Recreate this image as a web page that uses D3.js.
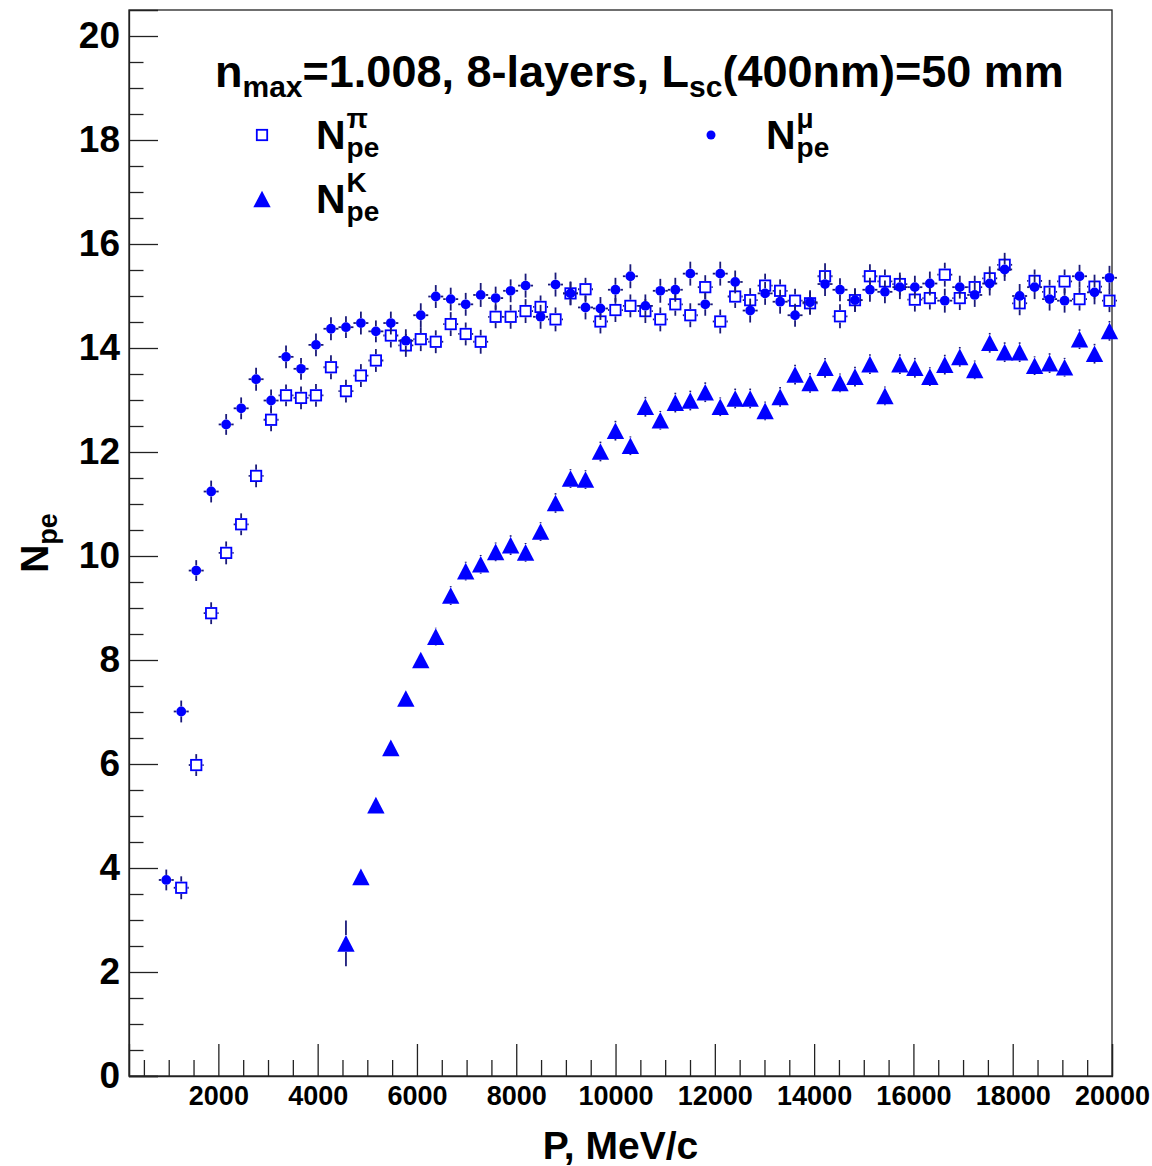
<!DOCTYPE html>
<html>
<head>
<meta charset="utf-8">
<script src="https://cdn.jsdelivr.net/npm/d3@7"></script>
<style>
  body { margin: 0; background: #fff; }
  text { font-family: "Liberation Sans", Arial, Helvetica, sans-serif; font-weight: bold; fill: #000; }
</style>
</head>
<body>
<svg id="chart" width="1152" height="1166"></svg>
<script>
// Momentum bin centres, MeV/c (64 bins of ~301.6 MeV/c)
const momentum = [
  951, 1252, 1554, 1855, 2157, 2459, 2760, 3062, 3363, 3665,
  3966, 4268, 4570, 4871, 5173, 5474, 5776, 6077, 6379, 6680,
  6982, 7284, 7585, 7887, 8188, 8490, 8791, 9093, 9395, 9696,
  9998, 10299, 10601, 10902, 11204, 11506, 11807, 12109, 12410, 12712,
  13013, 13315, 13616, 13918, 14220, 14521, 14823, 15124, 15426, 15727,
  16029, 16331, 16632, 16934, 17235, 17537, 17838, 18140, 18441, 18743,
  19045, 19346, 19648, 19949
];
const momentumHalfBin = 150.8;

// Photoelectron yield per particle type (null = below threshold)
const muonNpe = [
  3.77, 7.01, 9.72, 11.24, 12.53, 12.84, 13.40, 12.99, 13.83, 13.60,
  14.06, 14.37, 14.40, 14.48, 14.32, 14.48, 14.14, 14.63, 14.99, 14.94,
  14.84, 15.02, 14.96, 15.10, 15.20, 14.60, 15.22, 15.05, 14.78, 14.76,
  15.12, 15.38, 14.81, 15.10, 15.12, 15.43, 14.84, 15.43, 15.27, 14.72,
  15.05, 14.89, 14.63, 14.88, 15.23, 15.12, 14.92, 15.12, 15.08, 15.17,
  15.17, 15.24, 14.91, 15.17, 15.02, 15.24, 15.51, 15.00, 15.17, 14.94,
  14.91, 15.38, 15.07, 15.35
];
const muonErr = [
  0.20, 0.21, 0.20, 0.21, 0.20, 0.21, 0.22, 0.21, 0.22, 0.21,
  0.22, 0.22, 0.21, 0.22, 0.21, 0.22, 0.22, 0.23, 0.22, 0.22,
  0.22, 0.23, 0.22, 0.22, 0.23, 0.23, 0.23, 0.22, 0.23, 0.22,
  0.23, 0.23, 0.22, 0.23, 0.23, 0.23, 0.22, 0.23, 0.22, 0.23,
  0.22, 0.23, 0.22, 0.23, 0.23, 0.22, 0.23, 0.23, 0.22, 0.23,
  0.22, 0.23, 0.23, 0.22, 0.23, 0.23, 0.22, 0.23, 0.23, 0.22,
  0.23, 0.22, 0.23, 0.23
];
const pionNpe = [
  null, 3.62, 5.98, 8.90, 10.06, 10.61, 11.54, 12.62, 13.09, 13.04,
  13.09, 13.63, 13.17, 13.47, 13.76, 14.24, 14.05, 14.17, 14.12, 14.46,
  14.27, 14.12, 14.60, 14.60, 14.71, 14.79, 14.55, 15.05, 15.13, 14.51,
  14.73, 14.81, 14.71, 14.55, 14.84, 14.63, 15.17, 14.51, 14.99, 14.92,
  15.20, 15.10, 14.91, 14.86, 15.38, 14.61, 14.92, 15.38, 15.28, 15.23,
  14.93, 14.96, 15.41, 14.96, 15.17, 15.34, 15.60, 14.86, 15.29, 15.08,
  15.28, 14.94, 15.18, 14.91
];
const pionErr = [
  null, 0.22, 0.21, 0.21, 0.22, 0.21, 0.22, 0.22, 0.21, 0.22,
  0.22, 0.23, 0.22, 0.22, 0.22, 0.23, 0.22, 0.23, 0.22, 0.23,
  0.22, 0.23, 0.22, 0.23, 0.23, 0.22, 0.23, 0.23, 0.22, 0.23,
  0.23, 0.22, 0.23, 0.23, 0.22, 0.23, 0.23, 0.23, 0.22, 0.23,
  0.23, 0.22, 0.23, 0.22, 0.25, 0.23, 0.22, 0.23, 0.23, 0.22,
  0.23, 0.22, 0.23, 0.23, 0.22, 0.23, 0.23, 0.23, 0.22, 0.23,
  0.23, 0.22, 0.23, 0.22
];
const kaonNpe = [
  null, null, null, null, null, null, null, null, null, null,
  null, null, 2.55, 3.83, 5.21, 6.31, 7.26, 8.00, 8.45, 9.24,
  9.71, 9.84, 10.08, 10.21, 10.07, 10.47, 11.02, 11.49, 11.47, 12.01,
  12.41, 12.12, 12.87, 12.61, 12.95, 12.99, 13.15, 12.87, 13.03, 13.03,
  12.79, 13.06, 13.49, 13.33, 13.62, 13.33, 13.45, 13.69, 13.08, 13.69,
  13.62, 13.45, 13.68, 13.83, 13.58, 14.10, 13.92, 13.92, 13.66, 13.71,
  13.63, 14.17, 13.89, 14.33
];
const kaonErr = [
  null, null, null, null, null, null, null, null, null, null,
  null, null, 0.44, 0.15, 0.14, 0.13, 0.13, 0.14, 0.17, 0.18,
  0.18, 0.18, 0.18, 0.19, 0.18, 0.18, 0.19, 0.18, 0.18, 0.19,
  0.19, 0.18, 0.19, 0.18, 0.19, 0.19, 0.19, 0.18, 0.19, 0.19,
  0.18, 0.19, 0.19, 0.19, 0.19, 0.18, 0.19, 0.19, 0.18, 0.19,
  0.19, 0.18, 0.19, 0.19, 0.18, 0.19, 0.19, 0.19, 0.18, 0.19,
  0.18, 0.19, 0.19, 0.19
];

// Axis ticks
const xMajorTicks = [2000, 4000, 6000, 8000, 10000, 12000, 14000, 16000, 18000, 20000];
const xMinorTicks = [500, 1000, 1500, 2500, 3000, 3500, 4500, 5000, 5500, 6500, 7000, 7500,
  8500, 9000, 9500, 10500, 11000, 11500, 12500, 13000, 13500, 14500, 15000, 15500,
  16500, 17000, 17500, 18500, 19000, 19500];
const yMajorTicks = [0, 2, 4, 6, 8, 10, 12, 14, 16, 18, 20];
const yMinorTicks = [0.5, 1, 1.5, 2.5, 3, 3.5, 4.5, 5, 5.5, 6.5, 7, 7.5, 8.5, 9, 9.5,
  10.5, 11, 11.5, 12.5, 13, 13.5, 14.5, 15, 15.5, 16.5, 17, 17.5, 18.5, 19, 19.5];

const frame = { left: 129, right: 1112, top: 10, bottom: 1076 };
const blue = "#0000ff";
const barColor = "#1a1a7a";

const svg = d3.select("#chart");
const x = d3.scaleLinear().domain([200, 20000]).range([frame.left, frame.right]);
const y = d3.scaleLinear().domain([0, 20.5]).range([frame.bottom, frame.top]);

// Frame
svg.append("rect")
  .attr("x", frame.left).attr("y", frame.top)
  .attr("width", frame.right - frame.left).attr("height", frame.bottom - frame.top)
  .attr("fill", "none").attr("stroke", "#222").attr("stroke-width", 1.3);

// X axis: major ticks with labels, minor ticks without
const xAxisMajor = d3.axisBottom(x).tickValues(xMajorTicks).tickSize(-32).tickPadding(10)
  .tickFormat(d3.format("d"));
const gx = svg.append("g").attr("transform", `translate(0,${frame.bottom})`).call(xAxisMajor);
gx.select(".domain").attr("stroke", "#222").attr("stroke-width", 1.3);
gx.selectAll(".tick line").attr("stroke", "#222").attr("stroke-width", 1.3);
gx.selectAll(".tick text").style("font-size", "27px").attr("fill", "#000");
const gxMinor = svg.append("g").attr("transform", `translate(0,${frame.bottom})`)
  .call(d3.axisBottom(x).tickValues(xMinorTicks).tickSize(-16).tickFormat(""));
gxMinor.select(".domain").remove();
gxMinor.selectAll(".tick line").attr("stroke", "#222").attr("stroke-width", 1.3);

// Y axis
const yAxisMajor = d3.axisLeft(y).tickValues(yMajorTicks).tickSize(-29).tickPadding(9)
  .tickFormat(d3.format("d"));
const gy = svg.append("g").attr("transform", `translate(${frame.left},0)`).call(yAxisMajor);
gy.select(".domain").attr("stroke", "#222").attr("stroke-width", 1.3);
gy.selectAll(".tick line").attr("stroke", "#222").attr("stroke-width", 1.3);
gy.selectAll(".tick text").style("font-size", "37px").attr("fill", "#000");
const gyMinor = svg.append("g").attr("transform", `translate(${frame.left},0)`)
  .call(d3.axisLeft(y).tickValues(yMinorTicks).tickSize(-14.5).tickFormat(""));
gyMinor.select(".domain").remove();
gyMinor.selectAll(".tick line").attr("stroke", "#222").attr("stroke-width", 1.3);

// Axis titles
svg.append("text")
  .attr("x", (frame.left + frame.right) / 2).attr("y", 1159)
  .attr("text-anchor", "middle").style("font-size", "39px")
  .text("P, MeV/c");

const yTitle = svg.append("text")
  .attr("transform", `translate(48,${(frame.top + frame.bottom) / 2}) rotate(-90)`)
  .attr("text-anchor", "middle").style("font-size", "39px");
yTitle.append("tspan").text("N");
yTitle.append("tspan").attr("dy", 9).style("font-size", "27px").text("pe");

// Marker shapes
const triHalfW = 8.7, triHalfH = 8.3;
const squareHalf = 5.2;
const markerGap = { square: 6.2, circle: 5, triangle: 8.3 };

function trianglePath(cx, cy, hw, hh) {
  return `M${cx},${cy - hh}L${cx + hw},${cy + hh}L${cx - hw},${cy + hh}Z`;
}

function buildPoints(values, errors) {
  return momentum.map((p, i) => ({ p, v: values[i], e: errors[i] }))
    .filter(d => d.v !== null);
}

function drawErrorBars(g, pts, gap) {
  const segs = [];
  pts.forEach(d => {
    const cx = x(d.p), cy = y(d.v);
    const top = y(d.v + d.e), bot = y(d.v - d.e);
    if (cy - top > gap) segs.push([cx, top, cx, cy - gap]);
    if (bot - cy > gap) segs.push([cx, cy + gap, cx, bot]);
    const left = x(d.p - momentumHalfBin), right = x(d.p + momentumHalfBin);
    if (cx - left > gap) segs.push([left, cy, cx - gap, cy]);
    if (right - cx > gap) segs.push([cx + gap, cy, right, cy]);
  });
  g.selectAll("line.err").data(segs).join("line").attr("class", "err")
    .attr("x1", s => s[0]).attr("y1", s => s[1])
    .attr("x2", s => s[2]).attr("y2", s => s[3])
    .attr("stroke", barColor).attr("stroke-width", 1.8);
}

// Pions: open squares
const pionPts = buildPoints(pionNpe, pionErr);
const gPion = svg.append("g");
drawErrorBars(gPion, pionPts, markerGap.square);
gPion.selectAll("rect").data(pionPts).join("rect")
  .attr("x", d => x(d.p) - squareHalf).attr("y", d => y(d.v) - squareHalf)
  .attr("width", 2 * squareHalf).attr("height", 2 * squareHalf)
  .attr("fill", "none").attr("stroke", blue).attr("stroke-width", 1.8);

// Muons: filled circles
const muonPts = buildPoints(muonNpe, muonErr);
const gMuon = svg.append("g");
drawErrorBars(gMuon, muonPts, markerGap.circle);
gMuon.selectAll("circle").data(muonPts).join("circle")
  .attr("cx", d => x(d.p)).attr("cy", d => y(d.v)).attr("r", 4.9)
  .attr("fill", blue);

// Kaons: filled triangles
const kaonPts = buildPoints(kaonNpe, kaonErr);
const gKaon = svg.append("g");
drawErrorBars(gKaon, kaonPts, markerGap.triangle);
gKaon.selectAll("path").data(kaonPts).join("path")
  .attr("d", d => trianglePath(x(d.p), y(d.v), triHalfW, triHalfH))
  .attr("fill", blue);

// Title
const title = svg.append("text").attr("x", 215).attr("y", 87).style("font-size", "45px");
title.append("tspan").text("n");
title.append("tspan").attr("dy", 10).style("font-size", "30px").text("max");
title.append("tspan").attr("dy", -10).text("=1.008, 8-layers, L");
title.append("tspan").attr("dy", 10).style("font-size", "30px").text("sc");
title.append("tspan").attr("dy", -10).text("(400nm)=50 mm");

// Legend label: N with a particle superscript and "pe" subscript stacked
function npeLabel(x0, baseline, particle) {
  const g = svg.append("g");
  const n = g.append("text").attr("x", x0).attr("y", baseline).style("font-size", "41px").text("N");
  const w = n.node().getComputedTextLength();
  g.append("text").attr("x", x0 + w + 1).attr("y", baseline - 21).style("font-size", "28px").text(particle);
  g.append("text").attr("x", x0 + w + 1).attr("y", baseline + 8).style("font-size", "28px").text("pe");
}

// Legend
const legend = svg.append("g");
legend.append("rect").attr("x", 262 - squareHalf).attr("y", 135 - squareHalf)
  .attr("width", 2 * squareHalf).attr("height", 2 * squareHalf)
  .attr("fill", "none").attr("stroke", blue).attr("stroke-width", 1.8);
npeLabel(316, 149, "\u03c0");
legend.append("path").attr("d", trianglePath(262, 199, triHalfW, triHalfH)).attr("fill", blue);
npeLabel(316, 213, "K");
legend.append("circle").attr("cx", 711).attr("cy", 135).attr("r", 4.5).attr("fill", blue);
npeLabel(766, 149, "\u03bc");
</script>
</body>
</html>
